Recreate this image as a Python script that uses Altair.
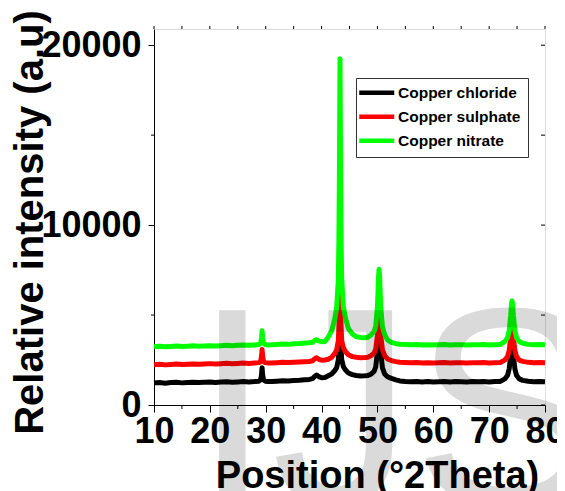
import altair as alt
import pandas as pd

# ---------------- data ----------------
pos = [10, 11, 12, 13, 14, 15, 16, 17, 18, 19, 20, 21, 22, 23, 24, 25, 26, 27, 28,
       28.8, 29.1, 29.25, 29.35, 29.45, 29.6, 29.9, 30.5,
       31, 32, 33, 34, 35, 36, 37,
       37.8, 38.4, 38.8, 39.1, 39.5, 40, 40.6,
       41.2, 41.8, 42.3, 42.7, 43.0, 43.1, 43.2, 43.3, 43.4, 43.5, 43.6, 43.9, 44.3, 44.8, 45.5,
       46.2, 47.0, 47.7, 48.3,
       48.9, 49.4, 49.7, 50.0, 50.1, 50.2, 50.3, 50.4, 50.5, 50.6, 50.9, 51.3, 51.8, 52.5, 53.3,
       54, 55, 56, 57, 58, 59, 60, 61, 62, 63, 64, 65, 66, 67, 68, 69, 70, 71, 72,
       72.8, 73.3, 73.6, 73.85, 74.0, 74.1, 74.2, 74.35, 74.6, 74.9, 75.4, 76,
       77, 78, 79, 80]

chloride = [1230, 1250, 1215, 1245, 1260, 1230, 1255, 1270, 1245, 1265, 1280, 1255, 1275, 1290, 1265, 1285, 1300, 1280, 1300,
            1325, 1400, 1690, 2070, 1690, 1400, 1325, 1305,
            1300, 1325, 1345, 1330, 1360, 1375, 1400,
            1420, 1470, 1600, 1670, 1580, 1520, 1530,
            1630, 1720, 1885, 2075, 2520, 3100, 4215, 6000, 4235, 3120, 2540, 2130, 1940, 1780, 1690,
            1640, 1610, 1620, 1640,
            1730, 1870, 2120, 2955, 3545, 4240, 4600, 4220, 3520, 2920, 2060, 1720, 1570, 1480, 1400,
            1340, 1310, 1290, 1305, 1285, 1300, 1280, 1295, 1305, 1285, 1300, 1290, 1280, 1300, 1290, 1305, 1285, 1300, 1310,
            1450, 1650, 2025, 2755, 3335, 3500, 3335, 2755, 2025, 1650, 1450, 1370,
            1320, 1295, 1305, 1290]

sulphate = [2240, 2265, 2230, 2255, 2275, 2245, 2270, 2285, 2260, 2280, 2300, 2275, 2295, 2315, 2290, 2310, 2330, 2310, 2335,
            2355, 2420, 2710, 3080, 2710, 2420, 2355, 2335,
            2335, 2355, 2370, 2360, 2380, 2395, 2410,
            2420, 2460, 2580, 2630, 2540, 2490, 2500,
            2545, 2650, 2840, 3060, 3580, 4250, 5540, 7600, 5560, 4270, 3600, 3180, 2960, 2790, 2690,
            2650, 2630, 2640, 2660,
            2750, 2880, 3110, 3880, 4430, 5070, 5400, 5060, 4410, 3850, 3060, 2740, 2560, 2470, 2410,
            2380, 2360, 2345, 2360, 2340, 2355, 2335, 2350, 2360, 2340, 2355, 2345, 2335, 2355, 2345, 2360, 2340, 2355, 2365,
            2495, 2690, 3045, 3745, 4300, 4455, 4300, 3745, 3045, 2690, 2495, 2425,
            2370, 2345, 2360, 2350]

nitrate = [3240, 3265, 3235, 3255, 3275, 3250, 3270, 3290, 3265, 3285, 3300, 3280, 3300, 3320, 3295, 3315, 3335, 3315, 3340,
           3360, 3430, 3735, 4125, 3735, 3430, 3360, 3340,
           3345, 3365, 3385, 3370, 3400, 3420, 3450,
           3460, 3490, 3590, 3630, 3560, 3520, 3530,
           3780, 4120, 4700, 5390, 6980, 9050, 13020, 19250, 13060, 9090, 7020, 5450, 4800, 4250, 3950,
           3800, 3750, 3740, 3770,
           3910, 4080, 4400, 5460, 6210, 7090, 7550, 7080, 6190, 5430, 4340, 3900, 3620, 3480, 3410,
           3380, 3360, 3345, 3360, 3340, 3355, 3335, 3350, 3360, 3340, 3355, 3345, 3335, 3355, 3345, 3360, 3340, 3355, 3365,
           3520, 3745, 4155, 4965, 5605, 5785, 5605, 4965, 4155, 3745, 3520, 3435,
           3370, 3345, 3360, 3350]

series_names = ["Copper chloride", "Copper sulphate", "Copper nitrate"]
series_colors = ["#000000", "#ff0000", "#00ff00"]

x_major = [10, 20, 30, 40, 50, 60, 70, 80]
x_minor = [15, 25, 35, 45, 55, 65, 75]
y_major = [0, 10000, 20000]
y_minor = [5000, 15000]
watermark = ["IJS"]

# ---------------- layout ----------------
W, H = 391, 376
LABEL_FONT = "Liberation Sans Narrow, Liberation Sans"

frames = []
for name, vals in zip(series_names, [chloride, sulphate, nitrate]):
    frames.append(pd.DataFrame({"pos": pos, "intensity": vals, "sample": name}))
df = pd.concat(frames, ignore_index=True)

xscale = alt.Scale(domain=[10, 80], nice=False, zero=False)
yscale = alt.Scale(domain=[0, 20900], nice=False, zero=False)

x_axis = alt.Axis(values=x_major, format="d", title="Position (°2Theta)",
                  titleFont="Liberation Sans", titleFontSize=38, titleFontWeight="bold",
                  titleColor="black", titleX=223, titleY=82, titleBaseline="alphabetic",
                  titleAlign="center",
                  labelFont=LABEL_FONT, labelFontSize=36, labelFontWeight="bold",
                  labelColor="black", labelPadding=2, labelFlush=False, labelOverlap=False,
                  tickSize=7, tickColor="black", domainColor="black", grid=False)
y_axis = alt.Axis(values=y_major, format="d", title="Relative intensity (a.u)",
                  titleFont="Liberation Sans", titleFontSize=40, titleFontWeight="bold",
                  titleColor="black", titleAngle=270, titleX=-112, titleY=193,
                  titleBaseline="alphabetic", titleAlign="center",
                  labelFont=LABEL_FONT, labelFontSize=36, labelFontWeight="bold",
                  labelColor="black", labelPadding=7, labelFlush=False, labelOverlap=False,
                  tickSize=6, tickColor="black", domainColor="black", grid=False)

color = alt.Color("sample:N",
                  scale=alt.Scale(domain=series_names, range=series_colors),
                  legend=alt.Legend(title=None, orient="none", legendX=202, legendY=49,
                                    symbolType="M-1,0H6", symbolSize=100, symbolStrokeWidth=4.5,
                                    symbolOffset=-6.5,
                                    labelFont="Liberation Sans", labelFontWeight="bold",
                                    labelFontSize=15.5, labelColor="black", labelOffset=26,
                                    rowPadding=5, padding=7, strokeColor="#333333",
                                    fillColor="white", cornerRadius=0))

layers = []
for name in series_names:
    layers.append(
        alt.Chart(df).transform_filter(alt.datum.sample == name)
        .mark_line(strokeWidth=5, strokeJoin="round")
        .encode(x=alt.X("pos:Q", scale=xscale, axis=x_axis),
                y=alt.Y("intensity:Q", scale=yscale, axis=y_axis),
                color=color)
    )

bottom_minor = alt.Chart(pd.DataFrame({"v": x_minor})).mark_rule(color="black", strokeWidth=1).encode(
    x=alt.X("v:Q", scale=xscale, axis=x_axis), y=alt.value(H), y2=alt.value(H + 4))
top_ticks = alt.Chart(pd.DataFrame({"v": x_major + x_minor})).mark_rule(color="black", strokeWidth=1).encode(
    x=alt.X("v:Q", scale=xscale, axis=x_axis), y=alt.value(-3), y2=alt.value(0))
left_minor = alt.Chart(pd.DataFrame({"v": y_minor})).mark_rule(color="black", strokeWidth=1).encode(
    y=alt.Y("v:Q", scale=yscale, axis=y_axis), x=alt.value(-3), x2=alt.value(0))
right_ticks = alt.Chart(pd.DataFrame({"v": y_major + y_minor})).mark_rule(color="black", strokeWidth=1).encode(
    y=alt.Y("v:Q", scale=yscale, axis=y_axis), x=alt.value(W - 4), x2=alt.value(W))

wm = alt.Chart(pd.DataFrame({"t": watermark})).mark_text(
    font="Liberation Sans", fontSize=283, align="left", baseline="alphabetic",
    color="black", opacity=0.14).encode(x=alt.value(39), y=alt.value(476), text="t:N")

chart = alt.layer(*layers, bottom_minor, top_ticks, left_minor, right_ticks, wm).properties(
    width=W, height=H,
    autosize=alt.AutoSizeParams(type="none"),
    padding={"left": 146, "top": 21, "right": 12, "bottom": 86},
).configure_view(stroke="black", strokeWidth=1).configure(background="white")

chart.save("out.html", embed_options={"renderer": "svg", "actions": False})
